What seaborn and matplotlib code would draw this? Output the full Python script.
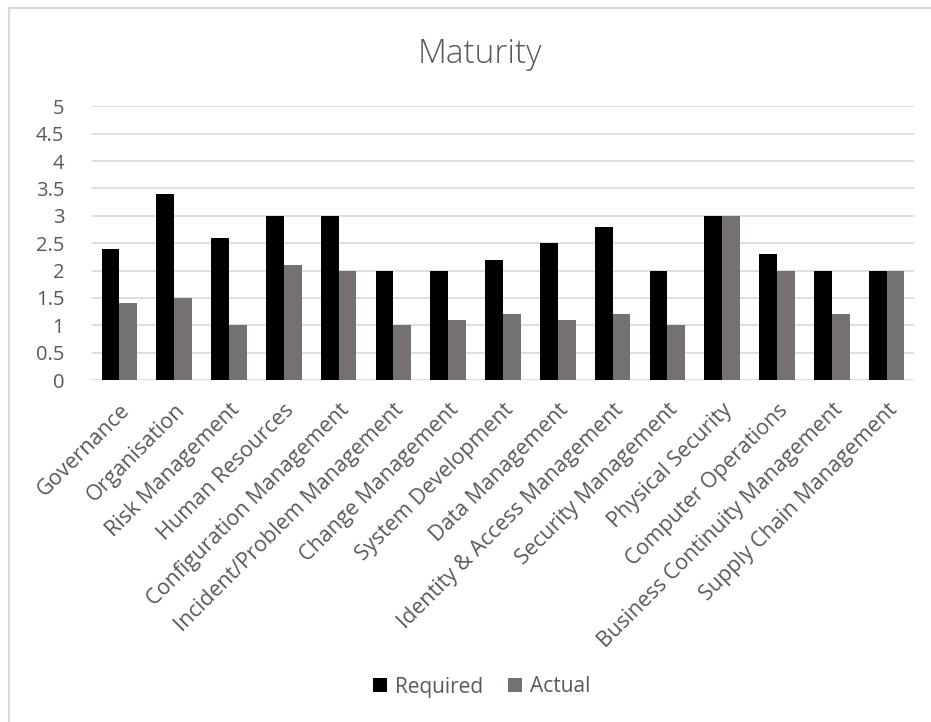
import matplotlib
matplotlib.use("Agg")
import matplotlib.pyplot as plt
from matplotlib.patches import Rectangle, Patch
import seaborn as sns
import pandas as pd

# Maturity assessment per domain
categories = [
    "Governance", "Organisation", "Risk Management", "Human Resources",
    "Configuration Management", "Incident/Problem Management",
    "Change Management", "System Development", "Data Management",
    "Identity & Access Management", "Security Management",
    "Physical Security", "Computer Operations",
    "Business Continuity Management", "Supply Chain Management",
]
required = [2.4, 3.4, 2.6, 3.0, 3.0, 2.0, 2.0, 2.2, 2.5, 2.8, 2.0, 3.0, 2.3, 2.0, 2.0]
actual = [1.4, 1.5, 1.0, 2.1, 2.0, 1.0, 1.1, 1.2, 1.1, 1.2, 1.0, 3.0, 2.0, 1.2, 2.0]
series_names = ["Required", "Actual"]
y_ticks = [0, 0.5, 1, 1.5, 2, 2.5, 3, 3.5, 4, 4.5, 5]
y_tick_labels = ["0", "0.5", "1", "1.5", "2", "2.5", "3", "3.5", "4", "4.5", "5"]

df = pd.DataFrame({
    "Domain": categories * 2,
    "Series": [series_names[0]] * len(categories) + [series_names[1]] * len(categories),
    "Score": required + actual,
})

sns.set_theme(style="white")
plt.rcParams["font.family"] = ["Open Sans", "DejaVu Sans"]
text_color = "#595959"
grid_color = "#d9d9d9"
colors = {"Required": "#000000", "Actual": "#767171"}

W, H = 931, 722
fig = plt.figure(figsize=(W / 100, H / 100), dpi=100)
fig.patch.set_facecolor("white")

# outer chart frame
fig.patches.append(Rectangle((9 / W, -0.1), 1.2, 1 - 8 / H + 0.1,
                             transform=fig.transFigure, fill=False,
                             edgecolor="#d9d9d9", linewidth=1.5))

left, right = 92 / W, 914 / W
bottom, top = 1 - 380 / H, 1 - 106.3 / H
ax = fig.add_axes([left, bottom, right - left, top - bottom])

sns.barplot(data=df, x="Domain", y="Score", hue="Series", palette=colors,
            order=categories, hue_order=series_names, width=0.65,
            linewidth=0, saturation=1, ax=ax, legend=False, errorbar=None)

ax.set_ylim(0, 5)
ax.set_xlim(-0.5, len(categories) - 0.5)
ax.set_yticks(y_ticks)
ax.set_yticklabels(y_tick_labels)
ax.yaxis.grid(True, color=grid_color, linewidth=1.2)
ax.set_axisbelow(True)
for s in ax.spines.values():
    s.set_visible(False)
ax.set_xlabel("")
ax.set_ylabel("")
ax.tick_params(axis="y", length=0, pad=20, labelsize=14.5, labelcolor=text_color)
ax.tick_params(axis="x", length=0, pad=14, labelsize=15.5, labelcolor=text_color)
plt.setp(ax.get_xticklabels(), rotation=45, ha="right", rotation_mode="anchor")
for lbl in ax.get_yticklabels():
    lbl.set_horizontalalignment("right")

fig.text(480 / W, 1 - 54 / H, "Maturity", ha="center", va="center",
         fontsize=24, color=text_color, fontweight="light")

handles = [Patch(facecolor=colors[n], edgecolor="none", label=n) for n in series_names]
leg = fig.legend(handles=handles, loc="center", bbox_to_anchor=(482 / W, 1 - 687 / H),
                 ncol=2, frameon=False, fontsize=15, handlelength=0.65,
                 handleheight=0.65, handletextpad=0.4, columnspacing=1.2)
for t in leg.get_texts():
    t.set_color(text_color)

fig.savefig("out.png", dpi=100, facecolor="white")
